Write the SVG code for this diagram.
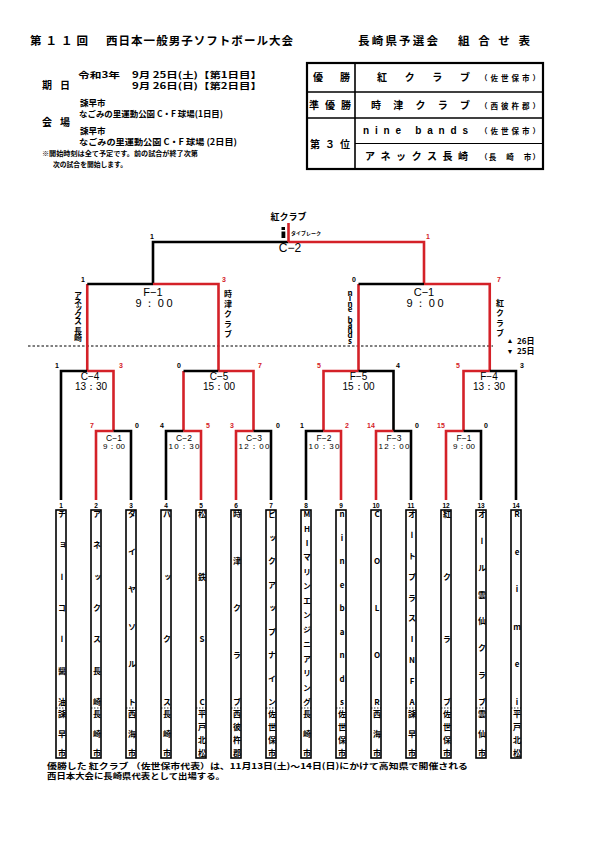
<svg xmlns="http://www.w3.org/2000/svg" width="595" height="842" viewBox="0 0 595 842">
<style>
.j{font-family:"Noto Sans CJK JP","Noto Sans",sans-serif;font-weight:700;fill:#000}
.l{font-family:"Liberation Sans",Arial,sans-serif;fill:#000}
.bk{stroke:#000;stroke-width:2.6;fill:none}
.rd{stroke:#d42128;stroke-width:2.6;fill:none}
.box{fill:#fff;stroke:#000;stroke-width:1.6}
.dv{stroke:#000;stroke-width:0.8;stroke-dasharray:1.5 1.5}
.vt{font-family:"Noto Sans CJK JP","Noto Sans",sans-serif;font-weight:700;font-size:8px;writing-mode:vertical-rl;text-orientation:upright;text-anchor:middle}
.num{font-family:"Liberation Sans",Arial,sans-serif;font-weight:700;font-size:6.5px;text-anchor:middle}
.sc{font-family:"Liberation Sans",Arial,sans-serif;font-weight:700;font-size:7px;text-anchor:middle;fill:#000}
.sr{fill:#d42128}
.m{text-anchor:middle}
</style>
<rect width="595" height="842" fill="#fff"/>

<g id="title" class="j" font-size="11.5">
<text x="30" y="45" textLength="58" lengthAdjust="spacing">第１１回</text>
<text x="106" y="45" textLength="187" lengthAdjust="spacing">西日本一般男子ソフトボール大会</text>
<text x="358" y="45" textLength="80" lengthAdjust="spacing">長崎県予選会</text>
<text x="458" y="45" textLength="72" lengthAdjust="spacing">組合せ表</text>
</g>

<g id="info" class="j" font-size="8.5">
<text x="42" y="89" font-size="10" textLength="28" lengthAdjust="spacing">期　日</text>
<text x="78" y="78" textLength="42" lengthAdjust="spacingAndGlyphs">令和3年</text>
<text x="132" y="78" textLength="130" lengthAdjust="spacingAndGlyphs">9月 25日(土)【第1日目】</text>
<text x="132" y="89" textLength="130" lengthAdjust="spacingAndGlyphs">9月 26日(日)【第2日目】</text>
<text x="80" y="106">諫早市</text>
<text x="79" y="117" textLength="144" lengthAdjust="spacingAndGlyphs">なごみの里運動公園 C・F 球場(1日目)</text>
<text x="42" y="126" font-size="10" textLength="28" lengthAdjust="spacing">会　場</text>
<text x="80" y="134">諫早市</text>
<text x="79" y="145" textLength="158" lengthAdjust="spacingAndGlyphs">なごみの里運動公園 C・F 球場 (2日目)</text>
<text x="42" y="156" font-size="7" textLength="156" lengthAdjust="spacingAndGlyphs">※開始時刻は全て予定です。前の試合が終了次第</text>
<text x="53" y="166.5" font-size="7" textLength="74" lengthAdjust="spacingAndGlyphs">次の試合を開始します。</text>
</g>

<g id="results">
<rect x="307" y="63" width="236" height="106" fill="none" stroke="#000" stroke-width="2.2"/>
<line x1="355" y1="63" x2="355" y2="169" stroke="#000" stroke-width="1.6"/>
<line x1="307" y1="92" x2="543" y2="92" stroke="#000" stroke-width="1.6"/>
<line x1="307" y1="118" x2="543" y2="118" stroke="#000" stroke-width="1.6"/>
<line x1="355" y1="143.5" x2="543" y2="143.5" stroke="#000" stroke-width="1.2"/>
<g class="j" font-size="10">
<text x="313" y="81" textLength="37" lengthAdjust="spacing">優　勝</text>
<text x="377" y="81" textLength="93" lengthAdjust="spacing">紅　ク　ラ　ブ</text>
<text x="309" y="109" textLength="42" lengthAdjust="spacing">準優勝</text>
<text x="371" y="109" textLength="99" lengthAdjust="spacing">時　津　ク　ラ　ブ</text>
<text x="310" y="147.5" textLength="40" lengthAdjust="spacing">第３位</text>
<text x="365" y="160" textLength="103" lengthAdjust="spacing">アネックス長崎</text>
<text x="480" y="80.5" font-size="7.5" textLength="60" lengthAdjust="spacing">（佐世保市）</text>
<text x="480" y="108.5" font-size="7.5" textLength="60" lengthAdjust="spacing">（西彼杵郡）</text>
<text x="480" y="134" font-size="7.5" textLength="60" lengthAdjust="spacing">（佐世保市）</text>
<text x="480" y="159.5" font-size="7.5" textLength="60" lengthAdjust="spacing">（長　崎　市）</text>
</g>
<text x="363" y="134" class="l" font-size="10" font-weight="700" textLength="105" lengthAdjust="spacing">nine bands</text>
</g>

<g id="day-divider">
<line x1="28" y1="346" x2="493" y2="346" stroke="#000" stroke-width="1" stroke-dasharray="2.5 2"/>
<text x="510" y="343" class="l m" font-size="7">▲</text>
<text x="510" y="354" class="l m" font-size="7">▼</text>
<text x="517" y="344" class="j" font-size="8">26日</text>
<text x="517" y="354" class="j" font-size="8">25日</text>
</g>

<g id="connectors" stroke-linejoin="miter">
<path class="bk" d="M153,284 V242 H288.5"/>
<path class="rd" d="M288.5,242 H424 V284"/>
<path class="rd" d="M288.5,242 V223"/>
<path class="rd" d="M87.25,371 V284"/>
<path class="bk" d="M87.25,284 H153"/>
<path class="rd" d="M153,284 H218.5 V371"/>
<path class="rd" d="M358.5,371 V284"/>
<path class="bk" d="M358.5,284 H424"/>
<path class="rd" d="M424,284 H489.75 V371"/>
<path class="bk" d="M61,500 V371 H87.25"/>
<path class="rd" d="M87.25,371 H113.5 V431"/>
<path class="rd" d="M183.5,431 V371"/>
<path class="bk" d="M183.5,371 H218.5"/>
<path class="rd" d="M218.5,371 H253.5 V431"/>
<path class="rd" d="M323.5,431 V371 H358.5"/>
<path class="bk" d="M358.5,371 H393.5 V431"/>
<path class="rd" d="M463.5,431 V371 H489.75"/>
<path class="bk" d="M489.75,371 H516 V500"/>
<path class="rd" d="M96,500 V431 H113.5"/>
<path class="bk" d="M113.5,431 H131 V500"/>
<path class="bk" d="M166,500 V431 H183.5"/>
<path class="rd" d="M183.5,431 H201 V500"/>
<path class="rd" d="M236,500 V431 H253.5"/>
<path class="bk" d="M253.5,431 H271 V500"/>
<path class="bk" d="M306,500 V431 H323.5"/>
<path class="rd" d="M323.5,431 H341 V500"/>
<path class="rd" d="M376,500 V431 H393.5"/>
<path class="bk" d="M393.5,431 H411 V500"/>
<path class="rd" d="M446,500 V431 H463.5"/>
<path class="bk" d="M463.5,431 H481 V500"/>
</g>

<g id="match-final">
<text x="288.5" y="220" class="j m" font-size="9">紅クラブ</text>
<rect x="281.5" y="227" width="3.5" height="3" fill="#000"/>
<rect x="281.5" y="231.5" width="3.8" height="6.5" fill="#000"/>
<text x="291" y="234.5" class="j" font-size="5" textLength="30" lengthAdjust="spacingAndGlyphs">タイブレーク</text>
<text x="290" y="252" class="l m" font-size="12">C−2</text>
<text x="152" y="239" class="sc">1</text>
<text x="428" y="239" class="sc sr">1</text>
</g>

<g id="match-semi-left">
<text x="153" y="296" class="l m" font-size="11">F−1</text>
<text x="154" y="306.5" class="l m" font-size="11" textLength="37" lengthAdjust="spacing">9：00</text>
<text x="83" y="282" class="sc">1</text>
<text x="224" y="282" class="sc sr">3</text>
<text class="vt" font-size="6" x="78 78 78 78 78 78 78" y="295 301.5 308 314.5 321 331 338">アネックス長崎</text>
<text class="vt" font-size="9" x="228 228 228 228 228" y="294 304 314 324 334">時津クラブ</text>
</g>

<g id="match-semi-right">
<text x="424" y="296" class="l m" font-size="11">C−1</text>
<text x="425" y="306.5" class="l m" font-size="11" textLength="37" lengthAdjust="spacing">9：00</text>
<text x="354" y="282" class="sc">0</text>
<text x="499" y="282" class="sc sr">7</text>
<text class="vt" font-size="4.5" font-family="Liberation Sans, sans-serif" x="350 350 350 350 350 350 350 350 350 350" y="293 298.3 303.6 308.9 314.2 319.5 324.8 330.1 335.4 340.7">nine bands</text>
<text class="vt" font-size="9" x="500 500 500 500" y="303 313 323 333">紅クラブ</text>
</g>

<g id="match-C4">
<text x="90" y="380" class="l m" font-size="10">C−4</text>
<text x="91" y="389.5" class="l m" font-size="10" textLength="32" lengthAdjust="spacing">13：30</text>
<text x="57" y="368" class="sc">1</text>
<text x="121" y="368" class="sc sr">3</text>
</g>
<g id="match-C5">
<text x="219" y="380" class="l m" font-size="10">C−5</text>
<text x="219" y="389.5" class="l m" font-size="10" textLength="32" lengthAdjust="spacing">15：00</text>
<text x="179" y="368" class="sc">0</text>
<text x="260" y="368" class="sc sr">7</text>
</g>
<g id="match-F5">
<text x="358.5" y="380" class="l m" font-size="10">F−5</text>
<text x="358.5" y="389.5" class="l m" font-size="10" textLength="32" lengthAdjust="spacing">15：00</text>
<text x="319" y="368" class="sc sr">5</text>
<text x="398" y="368" class="sc">4</text>
</g>
<g id="match-F4">
<text x="489" y="380" class="l m" font-size="10">F−4</text>
<text x="489" y="389.5" class="l m" font-size="10" textLength="32" lengthAdjust="spacing">13：30</text>
<text x="458" y="368" class="sc sr">5</text>
<text x="522" y="368" class="sc">3</text>
</g>

<g id="match-C1">
<text x="114" y="440.5" class="l m" font-size="8.5">C−1</text>
<text x="114" y="448.5" class="l m" font-size="8" textLength="22" lengthAdjust="spacing">9：00</text>
<text x="92" y="428" class="sc sr">7</text>
<text x="137" y="428" class="sc">0</text>
</g>
<g id="match-C2">
<text x="184" y="440.5" class="l m" font-size="8.5">C−2</text>
<text x="184" y="448.5" class="l m" font-size="8" textLength="31" lengthAdjust="spacing">10：30</text>
<text x="162" y="428" class="sc">4</text>
<text x="208" y="428" class="sc sr">5</text>
</g>
<g id="match-C3">
<text x="254" y="440.5" class="l m" font-size="8.5">C−3</text>
<text x="254" y="448.5" class="l m" font-size="8" textLength="31" lengthAdjust="spacing">12：00</text>
<text x="232" y="428" class="sc sr">3</text>
<text x="278" y="428" class="sc">0</text>
</g>
<g id="match-F2">
<text x="324" y="440.5" class="l m" font-size="8.5">F−2</text>
<text x="324" y="448.5" class="l m" font-size="8" textLength="31" lengthAdjust="spacing">10：30</text>
<text x="302" y="428" class="sc">1</text>
<text x="347" y="428" class="sc sr">2</text>
</g>
<g id="match-F3">
<text x="394" y="440.5" class="l m" font-size="8.5">F−3</text>
<text x="394" y="448.5" class="l m" font-size="8" textLength="31" lengthAdjust="spacing">12：00</text>
<text x="371" y="428" class="sc sr">14</text>
<text x="417" y="428" class="sc">0</text>
</g>
<g id="match-F1">
<text x="464" y="440.5" class="l m" font-size="8.5">F−1</text>
<text x="464" y="448.5" class="l m" font-size="8" textLength="22" lengthAdjust="spacing">9：00</text>
<text x="441" y="428" class="sc sr">15</text>
<text x="486" y="428" class="sc">0</text>
</g>

<g id="team1"><rect class="box" x="56" y="510" width="10" height="248"/><line class="dv" x1="56" y1="708" x2="66" y2="708"/><text class="num" x="61" y="508">1</text>
<text class="vt" x="62" y="514 545.3 576.7 608 639.3 670.7 702">チョーコー醤油</text><text class="vt" x="62" y="714 734 753">諫早市</text></g>
<g id="team2"><rect class="box" x="91" y="510" width="10" height="248"/><line class="dv" x1="91" y1="708" x2="101" y2="708"/><text class="num" x="96" y="508">2</text>
<text class="vt" x="97" y="514 545.3 576.7 608 639.3 670.7 702">アネックス長崎</text><text class="vt" x="97" y="714 734 753">長崎市</text></g>
<g id="team3"><rect class="box" x="126" y="510" width="10" height="248"/><line class="dv" x1="126" y1="708" x2="136" y2="708"/><text class="num" x="131" y="508">3</text>
<text class="vt" x="132" y="514 551.6 589.2 626.8 664.4 702">ダイヤソルト</text><text class="vt" x="132" y="714 734 753">西海市</text></g>
<g id="team4"><rect class="box" x="161" y="510" width="10" height="248"/><line class="dv" x1="161" y1="708" x2="171" y2="708"/><text class="num" x="166" y="508">4</text>
<text class="vt" x="167" y="514 576.7 639.3 702">パックス</text><text class="vt" x="167" y="714 734 753">長崎市</text></g>
<g id="team5"><rect class="box" x="196" y="510" width="10" height="248"/><line class="dv" x1="196" y1="708" x2="206" y2="708"/><text class="num" x="201" y="508">5</text>
<text class="vt" x="202" y="514 576.7 639.3 702">松鉄SC</text><text class="vt" x="202" y="714 727 740 753">平戸北松</text></g>
<g id="team6"><rect class="box" x="231" y="510" width="10" height="248"/><line class="dv" x1="231" y1="708" x2="241" y2="708"/><text class="num" x="236" y="508">6</text>
<text class="vt" x="237" y="514 561 608 655 702">時津クラブ</text><text class="vt" x="237" y="714 727 740 753">西彼杵郡</text></g>
<g id="team7"><rect class="box" x="266" y="510" width="10" height="248"/><line class="dv" x1="266" y1="708" x2="276" y2="708"/><text class="num" x="271" y="508">7</text>
<text class="vt" x="272" y="514 537.5 561 584.5 608 631.5 655 678.5 702">ピックアップナイン</text><text class="vt" x="272" y="714 727 740 753">佐世保市</text></g>
<g id="team8"><rect class="box" x="301" y="510" width="10" height="248"/><line class="dv" x1="301" y1="708" x2="311" y2="708"/><text class="num" x="306" y="508">8</text>
<text class="vt" x="307" y="514 528.5 542.9 557.4 571.8 586.3 600.8 615.2 629.7 644.2 658.6 673.1 687.5 702">MHIマリンエンジニアリング</text><text class="vt" x="307" y="714 734 753">長崎市</text></g>
<g id="team9"><rect class="box" x="336" y="510" width="10" height="248"/><line class="dv" x1="336" y1="708" x2="346" y2="708"/><text class="num" x="341" y="508">9</text>
<text class="vt" x="342" y="514 537.5 561 584.5 608 631.5 655 678.5 702">ninebands</text><text class="vt" x="342" y="714 727 740 753">佐世保市</text></g>
<g id="team10"><rect class="box" x="371" y="510" width="10" height="248"/><line class="dv" x1="371" y1="708" x2="381" y2="708"/><text class="num" x="376" y="508">10</text>
<text class="vt" x="377" y="514 561 608 655 702">COLOR</text><text class="vt" x="377" y="714 734 753">西海市</text></g>
<g id="team11"><rect class="box" x="406" y="510" width="10" height="248"/><line class="dv" x1="406" y1="708" x2="416" y2="708"/><text class="num" x="411" y="508">11</text>
<text class="vt" x="412" y="514 534.9 555.8 576.7 597.6 618.4 639.3 660.2 681.1 702">オートプラスINFA</text><text class="vt" x="412" y="714 734 753">諫早市</text></g>
<g id="team12"><rect class="box" x="441" y="510" width="10" height="248"/><line class="dv" x1="441" y1="708" x2="451" y2="708"/><text class="num" x="446" y="508">12</text>
<text class="vt" x="447" y="514 576.7 639.3 702">紅クラブ</text><text class="vt" x="447" y="714 727 740 753">佐世保市</text></g>
<g id="team13"><rect class="box" x="476" y="510" width="10" height="248"/><line class="dv" x1="476" y1="708" x2="486" y2="708"/><text class="num" x="481" y="508">13</text>
<text class="vt" x="482" y="514 540.9 567.7 594.6 621.4 648.3 675.1 702">オール雲仙クラブ</text><text class="vt" x="482" y="714 734 753">雲仙市</text></g>
<g id="team14"><rect class="box" x="511" y="510" width="10" height="248"/><line class="dv" x1="511" y1="708" x2="521" y2="708"/><text class="num" x="516" y="508">14</text>
<text class="vt" x="517" y="514 551.6 589.2 626.8 664.4 702">Reimei</text><text class="vt" x="517" y="714 727 740 753">平戸北松</text></g>

<g id="note" class="j" font-size="8">
<text x="47" y="769" textLength="421" lengthAdjust="spacingAndGlyphs">優勝した 紅クラブ （佐世保市代表）は、11月13日(土)〜14日(日)にかけて高知県で開催される</text>
<text x="47" y="778.5" textLength="178" lengthAdjust="spacingAndGlyphs">西日本大会に長崎県代表として出場する。</text>
</g>
</svg>
